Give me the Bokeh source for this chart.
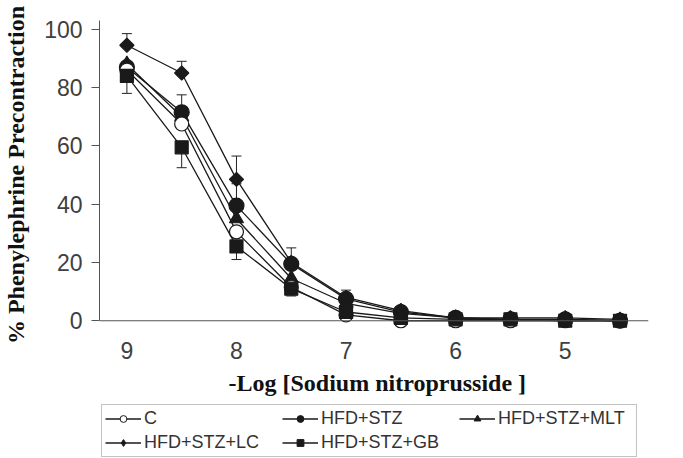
import numpy as np
from bokeh.plotting import figure
from bokeh.layouts import column
from bokeh.models import (Range1d, FixedTicker, Span, Whisker, ColumnDataSource,
                          Legend, LegendItem, Title, TeeHead)
from bokeh.embed import file_html
from bokeh.resources import INLINE

# ---- data ----
conc = [9, 8.5, 8, 7.5, 7, 6.5, 6, 5.5, 5, 4.5]
x_ticks = [9, 8, 7, 6, 5]
x_tick_labels = ["9", "8", "7", "6", "5"]
y_ticks = [0, 20, 40, 60, 80, 100]

series_names = ["C", "HFD+STZ", "HFD+STZ+MLT", "HFD+STZ+LC", "HFD+STZ+GB"]
c_vals = [86, 67.5, 30.5, 11.5, 2, 0, 0, 0, 0, 0]
stz_vals = [87, 71.5, 39.5, 19.5, 7.5, 3, 1, 0.5, 0.5, 0]
mlt_vals = [88, 70, 35, 14.5, 6, 2.5, 1, 0.5, 0.5, 0]
lc_vals = [94.5, 85, 48.5, 20, 8, 3.5, 1, 1, 1, 0.5]
gb_vals = [84, 59.5, 25.5, 11, 3, 1, 0.5, 0.5, 0, 0]

# error bars (one-sided as drawn in the figure)
stz_err_up = [0, 6, 7.5, 5.5, 0, 0, 0, 0, 0, 0]
lc_err_up = [4, 4, 8, 0, 2.5, 0, 0, 0, 0, 0]
gb_err_down = [6, 7, 4.5, 2.5, 0, 0, 0, 0, 0, 0]

W = 680
p = figure(width=W, height=404, output_backend="svg", toolbar_location=None,
           x_range=Range1d(9.25, 4.24), y_range=Range1d(-3, 103),
           min_border_left=96, min_border_right=32, min_border_top=20,
           min_border_bottom=75)
p.outline_line_color = None
p.xgrid.visible = False
p.ygrid.visible = False
p.background_fill_color = "white"
p.border_fill_color = "white"

TICK_COLOR = "#404040"
# x axis
p.xaxis.ticker = FixedTicker(ticks=x_ticks)
p.xaxis.major_label_overrides = {t: l for t, l in zip(x_ticks, x_tick_labels)}
p.xaxis.axis_line_color = None
p.xaxis.major_tick_line_color = None
p.xaxis.minor_tick_line_color = None
p.xaxis.major_label_standoff = 6
p.xaxis.major_label_text_font = "Liberation Sans"
p.xaxis.major_label_text_font_size = "23px"
p.xaxis.major_label_text_color = TICK_COLOR

# y axis
p.yaxis.ticker = FixedTicker(ticks=y_ticks)
p.yaxis.bounds = (0, 103)
p.yaxis.axis_line_color = "#555555"
p.yaxis.major_tick_line_color = "#555555"
p.yaxis.major_tick_out = 8
p.yaxis.major_tick_in = 0
p.yaxis.minor_tick_line_color = None
p.yaxis.major_label_standoff = 9
p.yaxis.major_label_text_font = "Liberation Sans"
p.yaxis.major_label_text_font_size = "23px"
p.yaxis.major_label_text_color = TICK_COLOR
p.yaxis.axis_label = "% Phenylephrine Precontraction"
p.yaxis.axis_label_text_font = "Liberation Serif"
p.yaxis.axis_label_text_font_size = "24px"
p.yaxis.axis_label_text_font_style = "bold"
p.yaxis.axis_label_text_color = "#111111"
p.yaxis.axis_label_standoff = 12

# horizontal axis line at y=0
p.add_layout(Span(location=0, dimension="width", line_color="#555555", line_width=1))

# x axis title
p.add_layout(Title(text="-Log [Sodium nitroprusside ]", align="left", offset=129,
                   text_font="Liberation Serif", text_font_size="24px",
                   text_font_style="bold", text_color="#111111", standoff=13), "below")

# error bars
def whisker(vals, err, up=True):
    xs, lo, hi = [], [], []
    for x, v, e in zip(conc, vals, err):
        if e > 0:
            xs.append(x)
            lo.append(v if up else v - e)
            hi.append(v + e if up else v)
    src = ColumnDataSource(dict(base=xs, lower=lo, upper=hi))
    w = Whisker(source=src, base="base", lower="lower", upper="upper",
                line_color="#222222", line_width=1, level="underlay")
    if up:
        w.upper_head = TeeHead(size=10, line_color="#222222", line_width=1)
        w.lower_head = None
    else:
        w.lower_head = TeeHead(size=10, line_color="#222222", line_width=1)
        w.upper_head = None
    p.add_layout(w)

whisker(stz_vals, stz_err_up, True)
whisker(lc_vals, lc_err_up, True)
whisker(gb_vals, gb_err_down, False)

LC = "#1a1a1a"
all_vals = [c_vals, stz_vals, mlt_vals, lc_vals, gb_vals]
styles = {
    "C": dict(marker="circle", size=14, fill_color="white", angle=0),
    "HFD+STZ": dict(marker="circle", size=15, fill_color=LC, angle=0),
    "HFD+STZ+MLT": dict(marker="triangle", size=14, fill_color=LC, angle=0),
    "HFD+STZ+LC": dict(marker="square", size=10, fill_color=LC, angle=0.785),
    "HFD+STZ+GB": dict(marker="square", size=13, fill_color=LC, angle=0),
}
legend_styles = {
    "C": dict(marker="circle", size=9),
    "HFD+STZ": dict(marker="circle", size=9),
    "HFD+STZ+MLT": dict(marker="triangle", size=9),
    "HFD+STZ+LC": dict(marker="diamond", size=11),
    "HFD+STZ+GB": dict(marker="square", size=9),
}

for name, vals in zip(series_names, all_vals):
    p.line(conc, vals, line_color=LC, line_width=1.3)

draw_order = ["HFD+STZ+MLT", "HFD+STZ", "C", "HFD+STZ+GB", "HFD+STZ+LC"]
for name in draw_order:
    vals = all_vals[series_names.index(name)]
    s = styles[name]
    p.scatter(conc, vals, marker=s["marker"], size=s["size"], angle=s["angle"],
              fill_color=s["fill_color"], line_color=LC, line_width=1.2)

# ---- legend strip below the chart ----
pl = figure(width=W, height=54, output_backend="svg", toolbar_location=None,
            x_range=Range1d(0, 1), y_range=Range1d(0, 1),
            x_axis_location=None, y_axis_location=None,
            min_border_left=96, min_border_right=32, min_border_top=0, min_border_bottom=0)
pl.outline_line_color = None
pl.grid.visible = False
pl.background_fill_color = "white"
pl.border_fill_color = "white"

items = []
for name in series_names:
    ls = legend_styles[name]
    src = ColumnDataSource(dict(x=np.array([np.nan]), y=np.array([np.nan])))
    lr = pl.line("x", "y", source=src, line_color=LC, line_width=1.3)
    sr = pl.scatter("x", "y", source=src, marker=ls["marker"], size=ls["size"],
                    fill_color=styles[name]["fill_color"], line_color=LC, line_width=1)
    items.append(LegendItem(label=name, renderers=[lr, sr]))

legend = Legend(items=items, location=(2, 1), orientation="horizontal", ncols=3,
                border_line_color="#888888", border_line_width=1,
                background_fill_color="white", background_fill_alpha=1,
                label_text_font="Liberation Sans", label_text_font_size="18px",
                label_text_color="#333333", glyph_width=36, glyph_height=17,
                label_height=17, label_width=135, label_standoff=3, spacing=3,
                padding=3, margin=0)
pl.add_layout(legend, "center")

layout = column(p, pl, spacing=0)
open("out.html", "w").write(file_html(layout, INLINE))
